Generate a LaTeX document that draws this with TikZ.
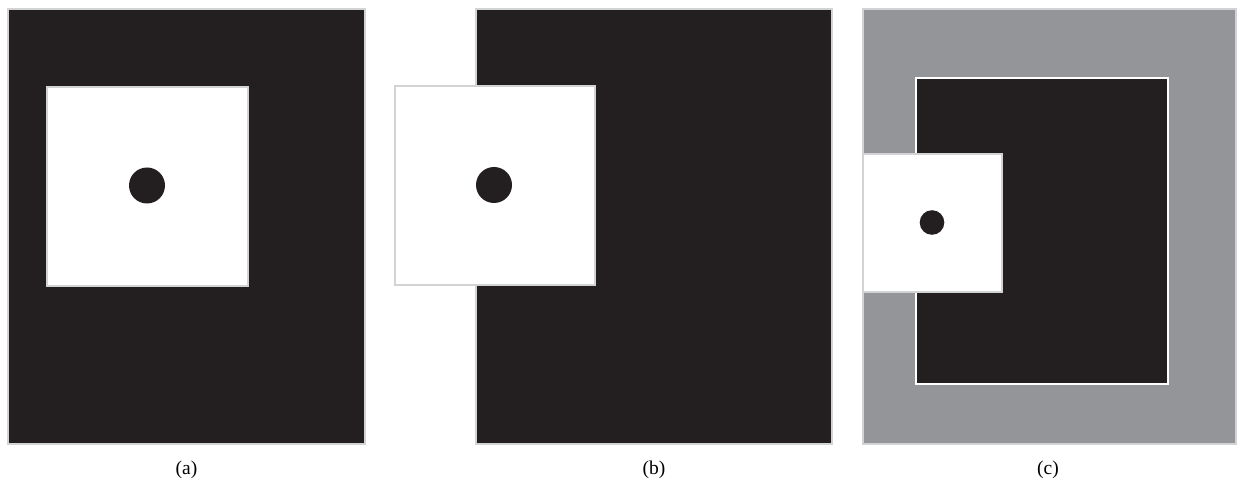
\documentclass[tikz,border=0pt]{standalone}
\usepackage{fontspec}
\setmainfont{Liberation Serif}
\definecolor{ink}{HTML}{231F20}
\definecolor{midgray}{HTML}{939598}
\definecolor{edge}{HTML}{D1D3D4}
\begin{document}
\begin{tikzpicture}[x=1pt,y=-1pt,
  panel/.style={fill=ink,draw=edge,line width=2pt},
  graypanel/.style={fill=midgray,draw=edge,line width=2pt},
  inner/.style={fill=ink,draw=white,line width=2.5pt},
  sq/.style={fill=white,draw=edge,line width=2.5pt},
  dot/.style={fill=ink},
  lab/.style={font=\fontsize{19.5}{22}\selectfont}]
\useasboundingbox (0,0) rectangle (1237,486);
% (a)
\draw[panel] (8,9) rectangle (365,444);
\draw[sq] (47,87) rectangle (248,286);
\fill[dot] (147,185.5) circle (18);
\node[lab] (la) at (186.5,470) {(a)};
% (b)
\draw[panel] (476,9) rectangle (832,444);
\draw[sq] (395,86) rectangle (595,285);
\fill[dot] (494,185) circle (18);
\node[lab] (lb) at (654,470) {(b)};
% (c)
\draw[graypanel] (863,9) rectangle (1236,444);
\draw[inner] (916,78) rectangle (1168,384);
\draw[sq] (863,154) rectangle (1002,292);
\fill[dot] (932,222.5) circle (12.3);
\node[lab] (lc) at (1048,470) {(c)};
\end{tikzpicture}
\end{document}
